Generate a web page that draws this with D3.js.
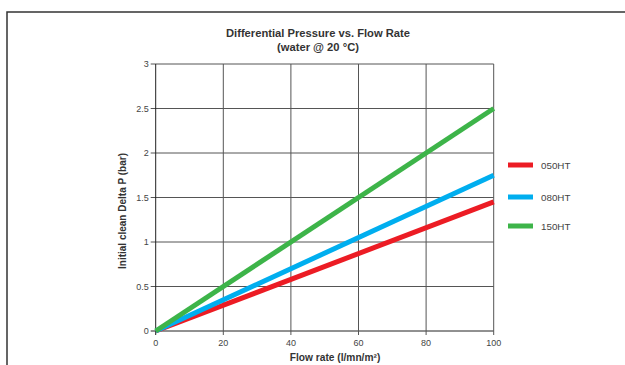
<!DOCTYPE html>
<html><head><meta charset="utf-8">
<script src="https://cdn.jsdelivr.net/npm/d3@7"></script>
<style>body{margin:0;background:#fff}svg{display:block;font-family:"Liberation Sans",Arial,sans-serif}</style>
</head><body><svg id="c" width="625" height="365"></svg>
<script>
const flowRange = [0, 100];
const xTicks = [0, 20, 40, 60, 80, 100];
const yTicks = [0, 0.5, 1, 1.5, 2, 2.5, 3];
const seriesNames = ["050HT", "080HT", "150HT"];
const seriesColors = ["#ec1c24", "#00aeef", "#3db449"];
const startValues = [0, 0, 0];
const endValues = [1.45, 1.75, 2.5];

const svg = d3.select("#c");
const L = 155.7, R = 493.7, T = 64, B = 331;
const x = d3.scaleLinear().domain([0, 100]).range([L, R]);
const y = d3.scaleLinear().domain([0, 3]).range([B, T]);

// frame
svg.append("rect").attr("x", 7).attr("y", 12).attr("width", 700).attr("height", 500)
  .attr("fill", "none").attr("stroke", "#333").attr("stroke-width", 1.5);

// grid
svg.append("g").selectAll("line").data(yTicks).join("line")
  .attr("x1", L - 5).attr("x2", R).attr("y1", d => y(d)).attr("y2", d => y(d))
  .attr("stroke", d => d === 0 ? "#222" : "#555").attr("stroke-width", 1);
svg.append("g").selectAll("line").data(xTicks).join("line")
  .attr("x1", d => x(d)).attr("x2", d => x(d)).attr("y1", T).attr("y2", B + 4)
  .attr("stroke", d => d === 0 ? "#222" : "#555").attr("stroke-width", 1);

// tick labels
svg.append("g").selectAll("text").data(yTicks).join("text")
  .attr("x", L - 7).attr("y", d => y(d) + 3).attr("text-anchor", "end")
  .attr("font-size", 9).attr("fill", "#444").text(d => d);
svg.append("g").selectAll("text").data(xTicks).join("text")
  .attr("x", d => x(d)).attr("y", B + 15).attr("text-anchor", "middle")
  .attr("font-size", 9).attr("fill", "#444").text(d => d);

// lines
const line = d3.line().x(d => x(d[0])).y(d => y(d[1]));
seriesNames.forEach((n, i) => {
  svg.append("path").datum([[flowRange[0], startValues[i]], [flowRange[1], endValues[i]]])
    .attr("d", line).attr("fill", "none").attr("stroke", seriesColors[i]).attr("stroke-width", 5);
});

// titles
svg.append("text").attr("x", 318).attr("y", 37).attr("text-anchor", "middle")
  .attr("font-size", 11.2).attr("font-weight", "bold").attr("fill", "#333").text("Differential Pressure vs. Flow Rate");
svg.append("text").attr("x", 318).attr("y", 51).attr("text-anchor", "middle")
  .attr("font-size", 11.2).attr("font-weight", "bold").attr("fill", "#333").text("(water @ 20 °C)");
svg.append("text").attr("x", 335).attr("y", 361).attr("text-anchor", "middle")
  .attr("font-size", 10.2).attr("font-weight", "bold").attr("fill", "#333").text("Flow rate (l/mn/m²)");
svg.append("text").attr("transform", "translate(126,211) rotate(-90)").attr("text-anchor", "middle")
  .attr("font-size", 10).attr("font-weight", "bold").attr("fill", "#333").text("Initial clean Delta P (bar)");

// legend
const legY = [165, 197, 226];
seriesNames.forEach((n, i) => {
  svg.append("line").attr("x1", 508).attr("x2", 533).attr("y1", legY[i]).attr("y2", legY[i])
    .attr("stroke", seriesColors[i]).attr("stroke-width", 5);
  svg.append("text").attr("x", 541).attr("y", legY[i] + 3.5).attr("font-size", 9.8).attr("fill", "#444").text(n);
});
</script></body></html>
